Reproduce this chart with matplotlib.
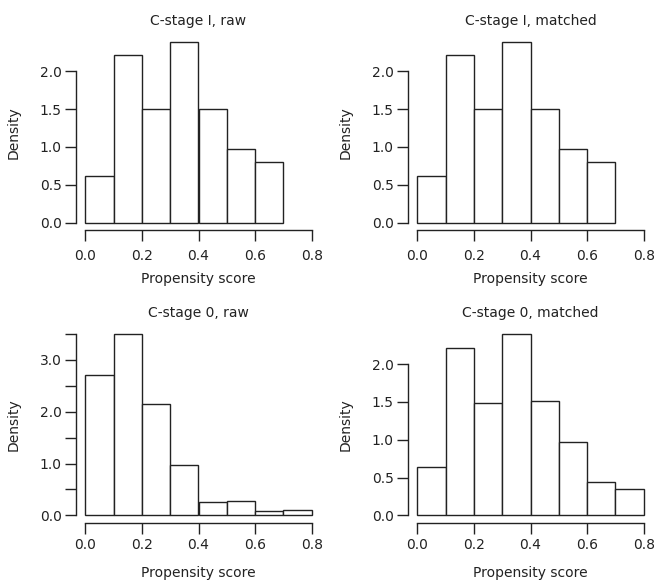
import numpy as np
import matplotlib
matplotlib.use("Agg")
import matplotlib.pyplot as plt

plt.rcParams['font.family'] = ['DejaVu Sans']

bin_edges_top = [0.0, 0.1, 0.2, 0.3, 0.4, 0.5, 0.6, 0.7]
bin_edges_bot = [0.0, 0.1, 0.2, 0.3, 0.4, 0.5, 0.6, 0.7, 0.8]

stage1_raw = [0.62, 2.21, 1.50, 2.39, 1.50, 0.97, 0.80]
stage1_matched = [0.62, 2.21, 1.50, 2.39, 1.50, 0.97, 0.80]
stage0_raw = [2.70, 3.50, 2.15, 0.98, 0.25, 0.28, 0.08, 0.10]
stage0_matched = [0.64, 2.21, 1.48, 2.40, 1.51, 0.97, 0.44, 0.35]

titles = ["C-stage I, raw", "C-stage I, matched", "C-stage 0, raw", "C-stage 0, matched"]
xticks = [0.0, 0.2, 0.4, 0.6, 0.8]
xticklabels = ["0.0", "0.2", "0.4", "0.6", "0.8"]
yticks_a = [0.0, 0.5, 1.0, 1.5, 2.0]
yticklabels_a = ["0.0", "0.5", "1.0", "1.5", "2.0"]
yticks_b = [0.0, 0.5, 1.0, 1.5, 2.0, 2.5, 3.0, 3.5]
yticklabels_b = ["0.0", "", "1.0", "", "2.0", "", "3.0", ""]

W, H = 657, 583
fig = plt.figure(figsize=(W / 100, H / 100), dpi=100)

col = "#222222"
fs = 10

def make_panel(left_px, top_px, right_px, bottom_px, edges, vals, title, yticks, ylabels,
               xpad, xlabpad):
    ax = fig.add_axes([left_px / W, 1 - bottom_px / H, (right_px - left_px) / W, (bottom_px - top_px) / H])
    lefts = edges[:-1]
    widths = np.diff(edges)
    ax.bar(lefts, vals, width=widths, align='edge', facecolor='white', edgecolor=col, linewidth=1.0)
    xr = 0.8
    ax.set_xlim(-0.04 * xr, 0.8 + 0.04 * xr)
    ymax = max(vals)
    ax.set_ylim(-0.04 * ymax, ymax * 1.04)
    for s in ['top', 'right']:
        ax.spines[s].set_visible(False)
    ax.spines['left'].set_bounds(yticks[0], yticks[-1])
    ax.spines['bottom'].set_bounds(0.0, 0.8)
    for s in ['left', 'bottom']:
        ax.spines[s].set_color(col)
        ax.spines[s].set_linewidth(1.0)
    ax.set_xticks(xticks)
    ax.set_xticklabels(xticklabels, fontsize=fs, color=col)
    ax.set_yticks(yticks)
    ax.set_yticklabels(ylabels, fontsize=fs, color=col)
    ax.tick_params(axis='both', length=8, width=1.0, color=col, direction='out')
    ax.tick_params(axis='x', pad=xpad)
    ax.tick_params(axis='y', pad=2.5)
    ax.set_xlabel("Propensity score", fontsize=fs, color=col, labelpad=xlabpad)
    ax.set_ylabel("Density", fontsize=fs, color=col, labelpad=14)
    ax.set_title(title, fontsize=fs, color=col, pad=7)
    return ax

make_panel(76.3, 34.5, 320.7, 229.9, bin_edges_top, stage1_raw, titles[0], yticks_a, yticklabels_a, 6, 6)
make_panel(408.3, 34.5, 652.7, 229.9, bin_edges_top, stage1_matched, titles[1], yticks_a, yticklabels_a, 6, 6)
make_panel(76.3, 326.7, 320.7, 522.6, bin_edges_bot, stage0_raw, titles[2], yticks_b, yticklabels_b, 3.3, 10)
make_panel(408.3, 326.7, 652.7, 522.6, bin_edges_bot, stage0_matched, titles[3], yticks_a, yticklabels_a, 3.3, 10)

fig.savefig("out.png", dpi=100, facecolor='white')
